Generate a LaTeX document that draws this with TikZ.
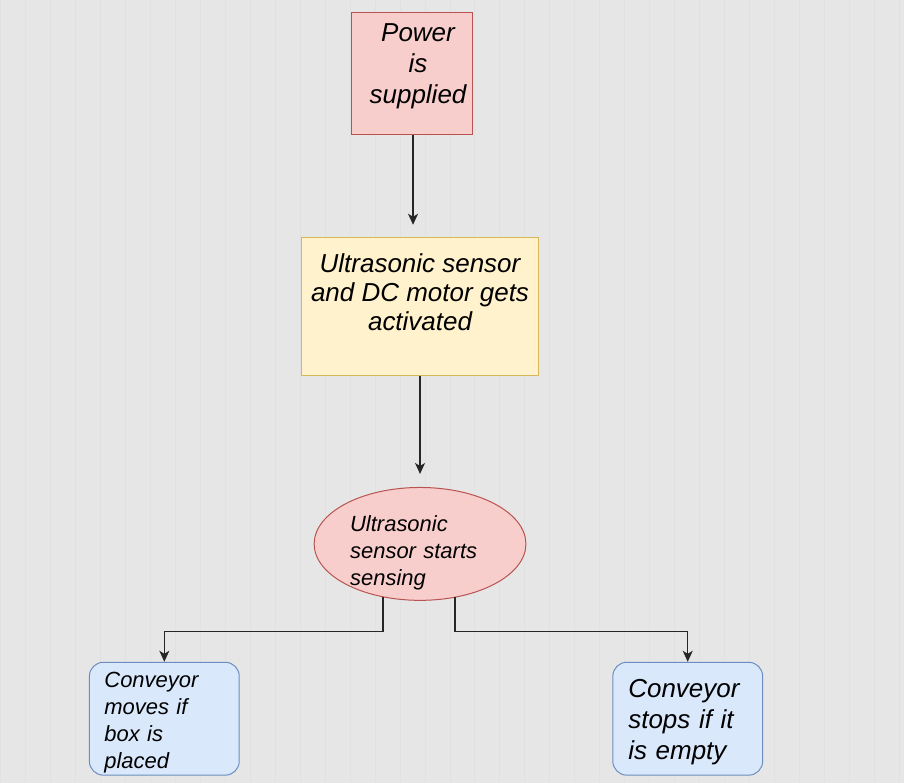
\documentclass[tikz,border=0pt]{standalone}
\usepackage{fontspec}
\setmainfont{Liberation Sans}
\usetikzlibrary{shapes.geometric,arrows.meta}
\definecolor{redfill}{HTML}{F8CECC}
\definecolor{redline}{HTML}{B85450}
\definecolor{yelfill}{HTML}{FFF2CC}
\definecolor{yelline}{HTML}{D6B656}
\definecolor{bluefill}{HTML}{DAE8FC}
\definecolor{blueline}{HTML}{6C8EBF}
\definecolor{paper}{HTML}{E6E6E6}
\definecolor{gridline}{HTML}{E1E1E1}
\newcommand{\bigtxt}{\fontsize{26}{31}\selectfont\itshape}
\newcommand{\midtxt}{\fontsize{26}{29}\selectfont\itshape}
\newcommand{\smalltxt}{\fontsize{22}{27}\selectfont\itshape}
\begin{document}
\begin{tikzpicture}[x=1pt,y=-1pt,
start/.style ={rectangle, draw=redline, fill=redfill, line width=1pt,
  minimum width=122pt, minimum height=122pt, inner sep=0pt
},
task/.style ={rectangle, draw=yelline, fill=yelfill, line width=1pt,
  minimum width=238pt, minimum height=138pt, inner sep=0pt
},
check/.style ={ellipse, draw=redline, fill=redfill, line width=1pt,
  minimum width=212pt, minimum height=113pt, inner sep=0pt
},
result/.style ={rectangle, draw=blueline, fill=bluefill, line width=1pt,
  rounded corners=14pt, minimum width=150pt, minimum height=113pt,
  inner sep=0pt
},
words/.style ={inner sep=0pt, align=left},
arr/.style ={draw=black!85, line width=1.2pt, -{Stealth[length=11pt,width=10pt,inset=3pt]}}
]
\fill[paper] (0,0) rectangle (904,783);
\draw[gridline, line width=1pt, step=25] (0,0) grid (904,783);
\useasboundingbox (0,0) rectangle (904,783);

\node (power) at (412,73) [start,
  label={[name=powertxt, words, align=center, font=\bigtxt, xshift=6pt, yshift=7pt]center:{Power\\is\\supplied}}] {};
\node (ultra) at (420,306) [task,
  label={[name=ultratxt, words, align=center, font=\midtxt, yshift=14pt]center:{Ultrasonic sensor\\and DC motor gets\\activated}}] {};
\node (sense) at (420,544) [check,
  label={[name=sensetxt, words, text width=140pt, font=\smalltxt, yshift=-9pt]center:{Ultrasonic\\sensor starts\\sensing}}] {};
\node (moves) at (164,719) [result,
  label={[name=movestxt, words, text width=120pt, font=\smalltxt, yshift=-4pt]center:{Conveyor\\moves if\\box is\\placed}}] {};
\node (stops) at (688,719) [result,
  label={[name=stopstxt, words, text width=119pt, font=\bigtxt, yshift=-3pt]center:{Conveyor\\stops if it\\is empty}}] {};

\draw[arr] ([xshift=1pt]power.south) -- ([yshift=12pt,xshift=1pt]power.south |- ultra.north);
\draw[arr] (ultra.south) -- ([yshift=13pt]sense.north);
\draw[arr] ([xshift=-37pt,yshift=4pt]sense.south) -- ++(0,35) -| (moves.north);
\draw[arr] ([xshift=35pt,yshift=4pt]sense.south) -- ++(0,35) -| (stops.north);
\end{tikzpicture}
\end{document}
